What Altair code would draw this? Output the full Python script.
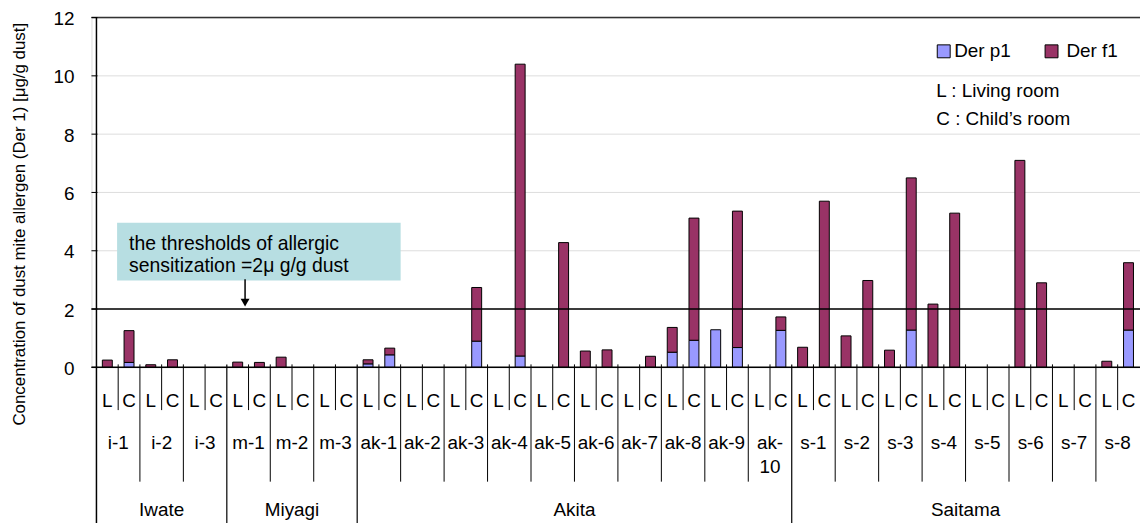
import altair as alt
import pandas as pd

# ---------------- data ----------------
prefectures = ["Iwate", "Miyagi", "Akita", "Saitama"]
houses_per_pref = [3, 3, 10, 8]
houses = ["i-1", "i-2", "i-3", "m-1", "m-2", "m-3",
          "ak-1", "ak-2", "ak-3", "ak-4", "ak-5", "ak-6", "ak-7", "ak-8", "ak-9", "ak-10",
          "s-1", "s-2", "s-3", "s-4", "s-5", "s-6", "s-7", "s-8"]
house_labels = ["i-1", "i-2", "i-3", "m-1", "m-2", "m-3",
                "ak-1", "ak-2", "ak-3", "ak-4", "ak-5", "ak-6", "ak-7", "ak-8", "ak-9", "ak-\n10",
                "s-1", "s-2", "s-3", "s-4", "s-5", "s-6", "s-7", "s-8"]
rooms = ["L", "C"]
series = ["Der p1", "Der f1"]
series_colors = ["#9999ff", "#993366"]

# values per slot (house L, house C, ...)
der_p1 = [0, 0.17, 0, 0, 0, 0,
          0, 0, 0, 0, 0, 0,
          0.12, 0.43, 0, 0, 0, 0.90, 0, 0.39, 0, 0, 0, 0, 0, 0, 0.52, 0.93, 1.29, 0.68, 0, 1.27,
          0, 0, 0, 0, 0, 1.28, 0, 0, 0, 0, 0, 0, 0, 0, 0, 1.28]
der_f1 = [0.25, 1.09, 0.09, 0.26, 0, 0,
          0.18, 0.17, 0.35, 0, 0, 0,
          0.14, 0.23, 0, 0, 0, 1.84, 0, 10.01, 0, 4.28, 0.56, 0.60, 0, 0.38, 0.85, 4.19, 0, 4.68, 0, 0.46,
          0.69, 5.70, 1.08, 2.98, 0.59, 5.22, 2.17, 5.29, 0, 0, 7.10, 2.90, 0, 0, 0.21, 2.31]

threshold = 2
y_ticks = [0, 2, 4, 6, 8, 10, 12]
y_title = "Concentration of dust mite allergen (Der 1)  [\u03bcg/g dust]"
note_lines = ["the thresholds of allergic", "sensitization =2\u03bc g/g dust"]
room_notes = ["L : Living room", "C : Child\u2019s room"]

SANS = "Liberation Sans, Arial, sans-serif"

n_slots = len(houses) * len(rooms)
W, H = 1055, 352

# ---------------- tables ----------------
rows = []
for i in range(n_slots):
    for k, (s, vals) in enumerate(zip(series, [der_p1, der_f1])):
        if vals[i] > 0:
            rows.append({"xc": i + 0.5, "series": s, "order": k, "value": vals[i]})
bars_df = pd.DataFrame(rows)

room_df = pd.DataFrame({"xc": [i + 0.5 for i in range(n_slots)],
                        "room": [rooms[i % 2] for i in range(n_slots)]})
house_df = pd.DataFrame({"xc": [2 * h + 1 for h in range(len(houses))],
                         "label": house_labels})
starts = [0]
for c in houses_per_pref:
    starts.append(starts[-1] + 2 * c)
pref_df = pd.DataFrame({"xc": [(starts[p] + starts[p + 1]) / 2 for p in range(len(prefectures))],
                        "label": prefectures})
pref_bounds = pd.DataFrame({"pos": starts[1:-1]})
house_bounds = pd.DataFrame({"pos": [2 * h for h in range(1, len(houses)) if 2 * h not in starts]})
room_bounds = pd.DataFrame({"pos": [2 * h + 1 for h in range(len(houses))]})

xscale = alt.Scale(domain=[0, 47.8], nice=False, zero=False)
yscale = alt.Scale(domain=[0, 12], nice=False)

# ---------------- layers ----------------
ytick_df = pd.DataFrame({"v": y_ticks})
grid = alt.Chart(pd.DataFrame({"v": y_ticks[1:-1]})).mark_rule(color="#dddddd", strokeWidth=1).encode(
    y=alt.Y("v:Q", scale=yscale, axis=None), x=alt.value(0), x2=alt.value(W))

bars = alt.Chart(bars_df).mark_bar(size=10, stroke="black", strokeWidth=1).encode(
    x=alt.X("xc:Q", scale=xscale, axis=None),
    y=alt.Y("value:Q", stack="zero", axis=None),
    color=alt.Color("series:N", scale=alt.Scale(domain=series, range=series_colors), legend=None),
    order=alt.Order("order:Q", sort="ascending"),
)

yticks = alt.Chart(ytick_df).mark_rule(color="black", strokeWidth=1).encode(
    y=alt.Y("v:Q", axis=None), x=alt.value(0), x2=alt.value(6))
ylabels = alt.Chart(ytick_df).mark_text(align="right", baseline="middle", font=SANS, fontSize=19,
                                        dy=1.5, color="black").encode(
    y=alt.Y("v:Q", axis=None), x=alt.value(-17), text="v:Q")

top_line = alt.Chart(pd.DataFrame({"v": [y_ticks[-1]]})).mark_rule(color="#333333", strokeWidth=1.5).encode(
    y=alt.Y("v:Q", axis=None), x=alt.value(0), x2=alt.value(W))
base_line = alt.Chart(pd.DataFrame({"v": [0]})).mark_rule(color="black", strokeWidth=1.5).encode(
    y=alt.Y("v:Q", axis=None), x=alt.value(0), x2=alt.value(W))
thr_line = alt.Chart(pd.DataFrame({"v": [threshold]})).mark_rule(color="black", strokeWidth=1.5).encode(
    y=alt.Y("v:Q", axis=None), x=alt.value(0), x2=alt.value(W))
left_line = alt.Chart(pd.DataFrame({"pos": [0]})).mark_rule(color="black", strokeWidth=1.5).encode(
    x=alt.X("pos:Q", axis=None), y=alt.value(0), y2=alt.value(530))

# annotation box (in data units)
note_box_df = pd.DataFrame({"x1": [0.95], "x2": [14.0], "y1": [4.96], "y2": [2.98]})
note_box = alt.Chart(note_box_df).mark_rect(color="#b7dee2").encode(
    x=alt.X("x1:Q", axis=None), x2="x2:Q", y=alt.Y("y1:Q", axis=None), y2="y2:Q")
note_text_df = pd.DataFrame({"x": [1.5, 1.5], "y": [4.24, 3.46], "t": note_lines})
note_text = alt.Chart(note_text_df).mark_text(align="left", baseline="middle", font=SANS,
                                               fontSize=19.5, color="black").encode(
    x=alt.X("x:Q", axis=None), y=alt.Y("y:Q", axis=None), text="t:N")
arrow_df = pd.DataFrame({"x": [6.84], "y1": [3.02], "y2": [2.22]})
arrow_line = alt.Chart(arrow_df).mark_rule(color="black", strokeWidth=1.5).encode(
    x=alt.X("x:Q", axis=None), y=alt.Y("y1:Q", axis=None), y2="y2:Q")
arrow_head = alt.Chart(arrow_df).mark_point(shape="triangle-down", filled=True, color="black",
                                            size=80, opacity=1).encode(
    x=alt.X("x:Q", axis=None), y=alt.Y("y2:Q", axis=None))

# legend (drawn with the same colour scale)
legend_df = pd.DataFrame({"series": series, "sx": [857.5, 966], "tx": [868, 981]})
legend_sym = alt.Chart(legend_df).mark_square(size=169, stroke="black", strokeWidth=1, opacity=1).encode(
    x=alt.X("sx:Q", scale=None), y=alt.value(34),
    color=alt.Color("series:N", scale=alt.Scale(domain=series, range=series_colors), legend=None))
legend_txt = alt.Chart(legend_df).mark_text(align="left", baseline="middle", font=SANS, fontSize=19,
                                            color="black").encode(
    x=alt.X("tx:Q", scale=None), y=alt.value(34), text="series:N")

room_note_df = pd.DataFrame({"t": room_notes, "yy": [74, 102]})
room_note = alt.Chart(room_note_df).mark_text(align="left", baseline="middle", font=SANS,
                                              fontSize=19, color="black").encode(
    x=alt.value(850), y=alt.Y("yy:Q", scale=None), text="t:N")

# category axis rows
room_text = alt.Chart(room_df).mark_text(baseline="alphabetic", font=SANS, fontSize=19,
                                         color="black").encode(
    x=alt.X("xc:Q", axis=None), y=alt.value(392), text="room:N")
house_text = alt.Chart(house_df).mark_text(baseline="alphabetic", font=SANS, fontSize=19,
                                           lineBreak="\n", lineHeight=24, color="black").encode(
    x=alt.X("xc:Q", axis=None), y=alt.value(434), text="label:N")
pref_text = alt.Chart(pref_df).mark_text(baseline="alphabetic", font=SANS, fontSize=19,
                                         color="black").encode(
    x=alt.X("xc:Q", axis=None), y=alt.value(502), text="label:N")

room_sep = alt.Chart(room_bounds).mark_rule(color="black", strokeWidth=1).encode(
    x=alt.X("pos:Q", axis=None), y=alt.value(349), y2=alt.value(395))
house_sep = alt.Chart(house_bounds).mark_rule(color="black", strokeWidth=1).encode(
    x=alt.X("pos:Q", axis=None), y=alt.value(349), y2=alt.value(467))
pref_sep = alt.Chart(pref_bounds).mark_rule(color="black", strokeWidth=1.2).encode(
    x=alt.X("pos:Q", axis=None), y=alt.value(349), y2=alt.value(530))

ytitle = alt.Chart(pd.DataFrame({"t": [y_title]})).mark_text(
    angle=270, align="center", baseline="middle", font=SANS, fontSize=17, color="black").encode(
    x=alt.value(-72), y=alt.value(208), text="t:N")

chart = alt.layer(
    grid, note_box, bars, thr_line, top_line, base_line, left_line, yticks, ylabels,
    note_text, arrow_line, arrow_head, legend_sym, legend_txt,
    room_note, room_text, house_text, pref_text, room_sep, house_sep, pref_sep, ytitle
).properties(
    width=W, height=H,
    autosize=alt.AutoSizeParams(type="none"),
    padding={"left": 84, "top": 8, "right": 0, "bottom": 155},
).configure_view(strokeWidth=0).configure(background="white")

chart.save("out.html", embed_options={"renderer": "svg", "actions": False})
